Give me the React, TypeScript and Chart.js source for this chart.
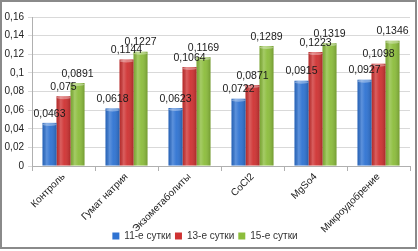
import React, { useEffect, useRef } from "react";
import { Chart, registerables } from "chart.js";

Chart.register(...registerables);

const categories = ["Контроль", "Гумат натрия", "Экзометаболиты", "CoCl2", "MgSo4", "Микроудобрение"];
const seriesNames = ["11-е сутки", "13-е сутки", "15-е сутки"];
const day11 = [0.0463, 0.0618, 0.0623, 0.0722, 0.0915, 0.0927];
const day13 = [0.075, 0.1144, 0.1064, 0.0871, 0.1223, 0.1098];
const day15 = [0.0891, 0.1227, 0.1169, 0.1289, 0.1319, 0.1346];
const seriesColors = ["#2f73d2", "#cf3232", "#8cbd3c"];
const yTicks = [0, 0.02, 0.04, 0.06, 0.08, 0.1, 0.12, 0.14, 0.16];

const fmt = (v: number) => String(v).replace(".", ",");

const FONT = "'Liberation Sans', Arial, sans-serif";

const decoPlugin = {
  id: "deco",
  afterDatasetsDraw(chart: any) {
    const ctx = chart.ctx;
    ctx.save();
    chart.data.datasets.forEach((ds: any, di: number) => {
      const meta = chart.getDatasetMeta(di);
      meta.data.forEach((bar: any) => {
        const left = bar.x - bar.width / 2;
        const g = ctx.createLinearGradient(left, 0, left + bar.width, 0);
        g.addColorStop(0, "rgba(0,0,0,0.12)");
        g.addColorStop(0.3, "rgba(255,255,255,0.22)");
        g.addColorStop(0.55, "rgba(255,255,255,0.05)");
        g.addColorStop(1, "rgba(0,0,0,0.18)");
        ctx.fillStyle = g;
        ctx.fillRect(left, bar.y, bar.width, bar.base - bar.y);
        ctx.fillStyle = "rgba(255,255,255,0.35)";
        ctx.beginPath();
        ctx.ellipse(bar.x, bar.y + 1.5, bar.width / 2, 1.5, 0, 0, Math.PI * 2);
        ctx.fill();
      });
    });
    ctx.fillStyle = "#1a1a1a";
    ctx.font = "10.5px " + FONT;
    ctx.textAlign = "center";
    ctx.textBaseline = "bottom";
    chart.data.datasets.forEach((ds: any, di: number) => {
      const meta = chart.getDatasetMeta(di);
      meta.data.forEach((bar: any, i: number) => {
        ctx.fillText(fmt(ds.data[i]), bar.x, bar.y - 4);
      });
    });
    ctx.restore();
  },
  afterDraw(chart: any) {
    const ctx = chart.ctx;
    ctx.save();
    ctx.strokeStyle = "#8a8a8a";
    ctx.lineWidth = 2;
    ctx.strokeRect(1, 1, 415, 247);
    ctx.restore();
  },
};

export default function App() {
  const ref = useRef<HTMLCanvasElement>(null);
  useEffect(() => {
    if (!ref.current) return;
    const chart = new Chart(ref.current, {
      type: "bar",
      data: {
        labels: categories,
        datasets: [day11, day13, day15].map((d, i) => ({
          label: seriesNames[i],
          data: d,
          backgroundColor: seriesColors[i],
          borderWidth: 0,
          categoryPercentage: 0.667,
          barPercentage: 1,
        })),
      },
      options: {
        animation: false,
        responsive: false,
        devicePixelRatio: 1,
        layout: { padding: { left: 0, right: 8, top: 17, bottom: 0 } },
        plugins: {
          tooltip: { enabled: false },
          legend: {
            position: "bottom",
            labels: {
              boxWidth: 7,
              boxHeight: 7,
              padding: 4,
              color: "#333",
              font: { size: 10, family: FONT },
            },
          },
        },
        scales: {
          x: {
            grid: { drawOnChartArea: false, tickLength: 5, color: "#b0b0b0", offset: true },
            border: { color: "#b0b0b0" },
            ticks: {
              minRotation: 45,
              maxRotation: 45,
              color: "#222",
              font: { size: 10, family: FONT },
              padding: 0,
            },
            afterFit: (s: any) => {
              s.height = 61;
              s._computeLabelArea = () => undefined;
            },
          },
          y: {
            min: 0,
            max: 0.16,
            afterBuildTicks: (s: any) => {
              s.ticks = yTicks.map((v) => ({ value: v }));
            },
            grid: { color: "#d9d9d9", tickLength: 4 },
            border: { color: "#b0b0b0" },
            ticks: {
              color: "#222",
              font: { size: 10, family: FONT },
              callback: (v: any) => fmt(Number(v)),
              padding: 4,
            },
            afterFit: (s: any) => {
              s.width = 32;
            },
          },
        },
      },
      plugins: [decoPlugin],
    });
    return () => chart.destroy();
  }, []);
  return (
    <div style={{ position: "fixed", left: 0, top: 0, width: 418, height: 251, background: "#fff" }}>
      <canvas ref={ref} width={418} height={251} style={{ width: 418, height: 251 }} />
    </div>
  );
}
